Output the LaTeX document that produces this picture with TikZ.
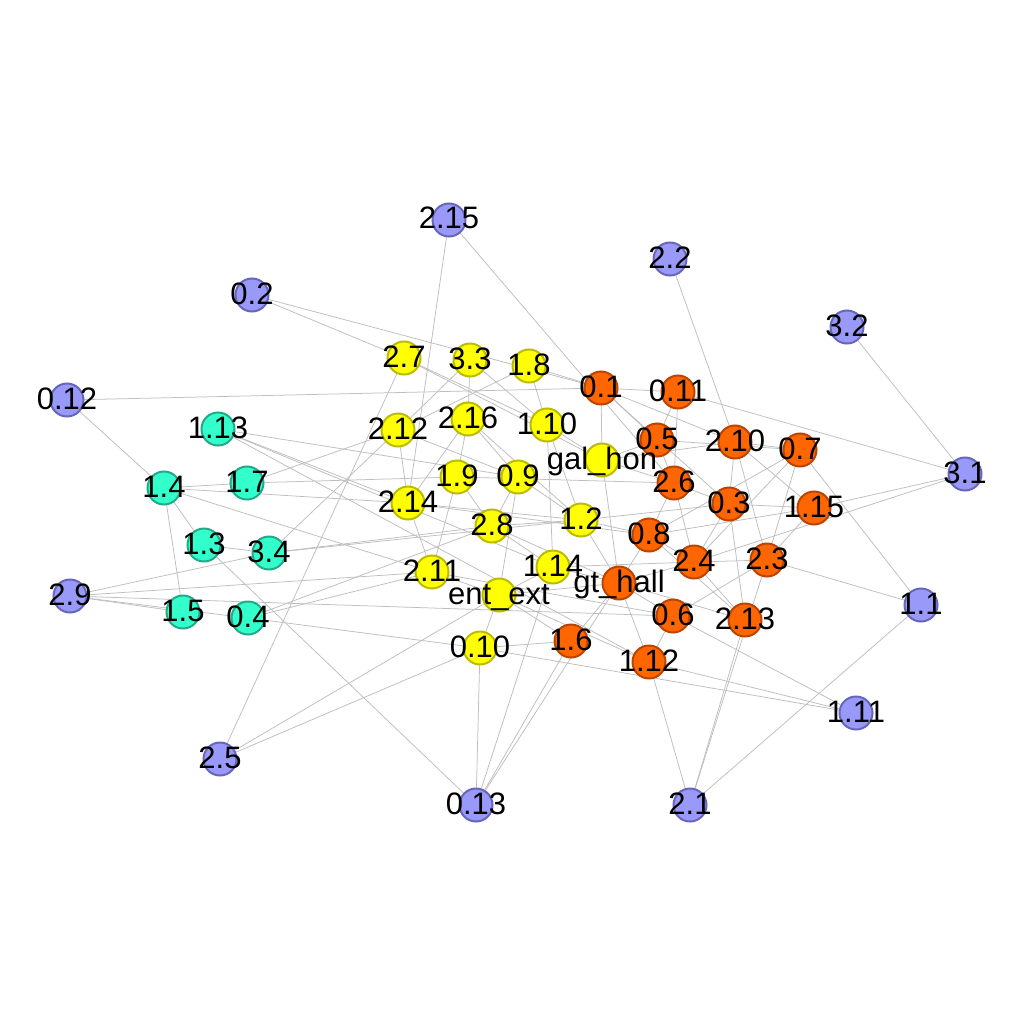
\documentclass[tikz,border=0pt]{standalone}
\usepackage{fontspec}
\setmainfont{Liberation Sans}
\usetikzlibrary{backgrounds}
\definecolor{bfill}{RGB}{153,153,250}
\definecolor{bline}{RGB}{102,102,187}
\definecolor{tfill}{RGB}{51,255,204}
\definecolor{tline}{RGB}{34,170,136}
\definecolor{yfill}{RGB}{255,255,0}
\definecolor{yline}{RGB}{187,187,0}
\definecolor{ofill}{RGB}{255,102,0}
\definecolor{oline}{RGB}{187,68,0}
\definecolor{ecol}{RGB}{190,190,190}
\tikzset{
  vtx/.style={circle,inner sep=0pt,minimum size=33pt,line width=2pt},
  bn/.style={vtx,fill=bfill,draw=bline},
  tn/.style={vtx,fill=tfill,draw=tline},
  yn/.style={vtx,fill=yfill,draw=yline},
  on/.style={vtx,fill=ofill,draw=oline},
  lab/.style={inner sep=0pt,anchor=base,yshift=-9pt,font=\fontsize{31}{31}\selectfont,text=black},
  edge/.style={draw=ecol,line width=0.75pt}
}
\begin{document}
\begin{tikzpicture}[x=1pt,y=-1pt]
\useasboundingbox (0,0) rectangle (1024,1024);
% blue
\node[bn] (b215) at (449,220) {};
\node[bn] (b22) at (670,259) {};
\node[bn] (b02) at (252,295) {};
\node[bn] (b32) at (847,327) {};
\node[bn] (b012) at (67,400) {};
\node[bn] (b31) at (965,474) {};
\node[bn] (b29) at (70,596) {};
\node[bn] (b11) at (921,605) {};
\node[bn] (b111) at (856,713) {};
\node[bn] (b25) at (220,759) {};
\node[bn] (b013) at (476,805) {};
\node[bn] (b21) at (690,805) {};
% teal
\node[tn] (t113) at (218,429) {};
\node[tn] (t14) at (164,488) {};
\node[tn] (t17) at (247,483) {};
\node[tn] (t13) at (204,545) {};
\node[tn] (t34) at (269,553) {};
\node[tn] (t15) at (183,612) {};
\node[tn] (t04) at (248,618) {};
% yellow
\node[yn] (y27) at (404,358) {};
\node[yn] (y33) at (470,360) {};
\node[yn] (y18) at (529,366) {};
\node[yn] (y212) at (398,430) {};
\node[yn] (y216) at (468,419) {};
\node[yn] (y110) at (547,425) {};
\node[yn] (ygal) at (602,460) {};
\node[yn] (y19) at (457,477) {};
\node[yn] (y09) at (518,477) {};
\node[yn] (y214) at (408,503) {};
\node[yn] (y28) at (492,526) {};
\node[yn] (y12) at (581,520) {};
\node[yn] (y114) at (553,567) {};
\node[yn] (y211) at (432,572) {};
\node[yn] (yent) at (499,595) {};
\node[yn] (y010) at (480,648) {};
% orange
\node[on] (o01) at (601,388) {};
\node[on] (o011) at (678,392) {};
\node[on] (o05) at (657,440) {};
\node[on] (o210) at (735,442) {};
\node[on] (o07) at (800,450) {};
\node[on] (o26) at (674,483) {};
\node[on] (o03) at (729,504) {};
\node[on] (o115) at (814,508) {};
\node[on] (o08) at (649,535) {};
\node[on] (o24) at (694,562) {};
\node[on] (o23) at (767,560) {};
\node[on] (ogt) at (619,583) {};
\node[on] (o06) at (673,616) {};
\node[on] (o213) at (745,620) {};
\node[on] (o16) at (571,641) {};
\node[on] (o112) at (649,662) {};
% edges
\begin{scope}[on background layer]
\fill[white] (0,0) rectangle (1024,1024);
\foreach \a/\b in {b215/y214,b215/o26,b22/o210,b02/y27,b02/o01,b32/b31,b012/t14,b012/o01,
 b31/o011,b31/o115,b31/o24,b29/t34,b29/y211,b29/o06,b29/t15,b29/t04,
 b11/o07,b11/o23,b11/b21,b111/o06,b111/o112,b111/y010,b25/y27,b25/yent,b25/y010,
 b013/t13,b013/y010,b013/y114,b013/o16,b013/ogt,b21/o213,b21/o23,b21/o112,
 t113/y09,t113/y114,t113/o112,t113/y214,t14/t17,t14/y214,t14/y211,t14/t13,t14/t15,
 t17/y212,t17/y19,t13/t34,t34/y212,t34/y28,t34/y12,t04/y28,t04/y211,t04/y010,
 y27/y110,y27/ygal,y33/y216,y33/y212,y33/y110,y18/y110,y18/o01,y18/y212,
 y212/y214,y212/y09,y216/y19,y216/y09,y216/y214,y216/y12,
 y110/ygal,y110/y12,y110/y114,ygal/o01,ygal/ogt,ygal/o26,ygal/o05,ygal/o210,
 y19/y28,y19/y211,y19/o26,y09/y28,y09/y12,y09/yent,y214/y211,y214/y12,y214/o08,
 y28/y114,y28/ogt,y28/y12,y12/o08,y12/ogt,y12/o03,y114/ogt,y114/yent,y114/o24,
 y211/yent,y211/o06,yent/y010,yent/ogt,yent/o16,yent/o112,y010/o16,
 o01/o011,o01/o05,o01/o03,o01/o210,o011/o05,o011/o26,o05/o26,o05/o07,
 o210/o07,o210/o03,o210/o23,o210/o115,o07/o08,o07/o24,o07/o23,
 o26/o03,o26/o24,o26/o08,o03/o115,o03/o24,o03/o213,o115/o08,o115/o23,
 o08/o24,o08/o213,o08/ogt,o24/o23,o24/o213,o24/ogt,o23/o06,
 ogt/o06,ogt/o112,ogt/o16,ogt/o213,o06/o112}
 {\draw[edge] (\a) -- (\b);}
\end{scope}
% labels
\foreach \n/\t in {b215/2.15,b22/2.2,b02/0.2,b32/3.2,b012/0.12,b31/3.1,b29/2.9,b11/1.1,b111/1.11,
 b25/2.5,b013/0.13,b21/2.1,t113/1.13,t14/1.4,t17/1.7,t13/1.3,t34/3.4,t15/1.5,t04/0.4,
 y27/2.7,y33/3.3,y18/1.8,y212/2.12,y216/2.16,y110/1.10,ygal/gal\_hon,y19/1.9,y09/0.9,
 y214/2.14,y28/2.8,y12/1.2,y114/1.14,y211/2.11,yent/ent\_ext,y010/0.10,
 o01/0.1,o011/0.11,o05/0.5,o210/2.10,o07/0.7,o26/2.6,o03/0.3,o115/1.15,o08/0.8,
 o24/2.4,o23/2.3,ogt/gt\_hall,o06/0.6,o213/2.13,o16/1.6,o112/1.12}
 {\node[lab] at (\n) {\t};}
\end{tikzpicture}
\end{document}
